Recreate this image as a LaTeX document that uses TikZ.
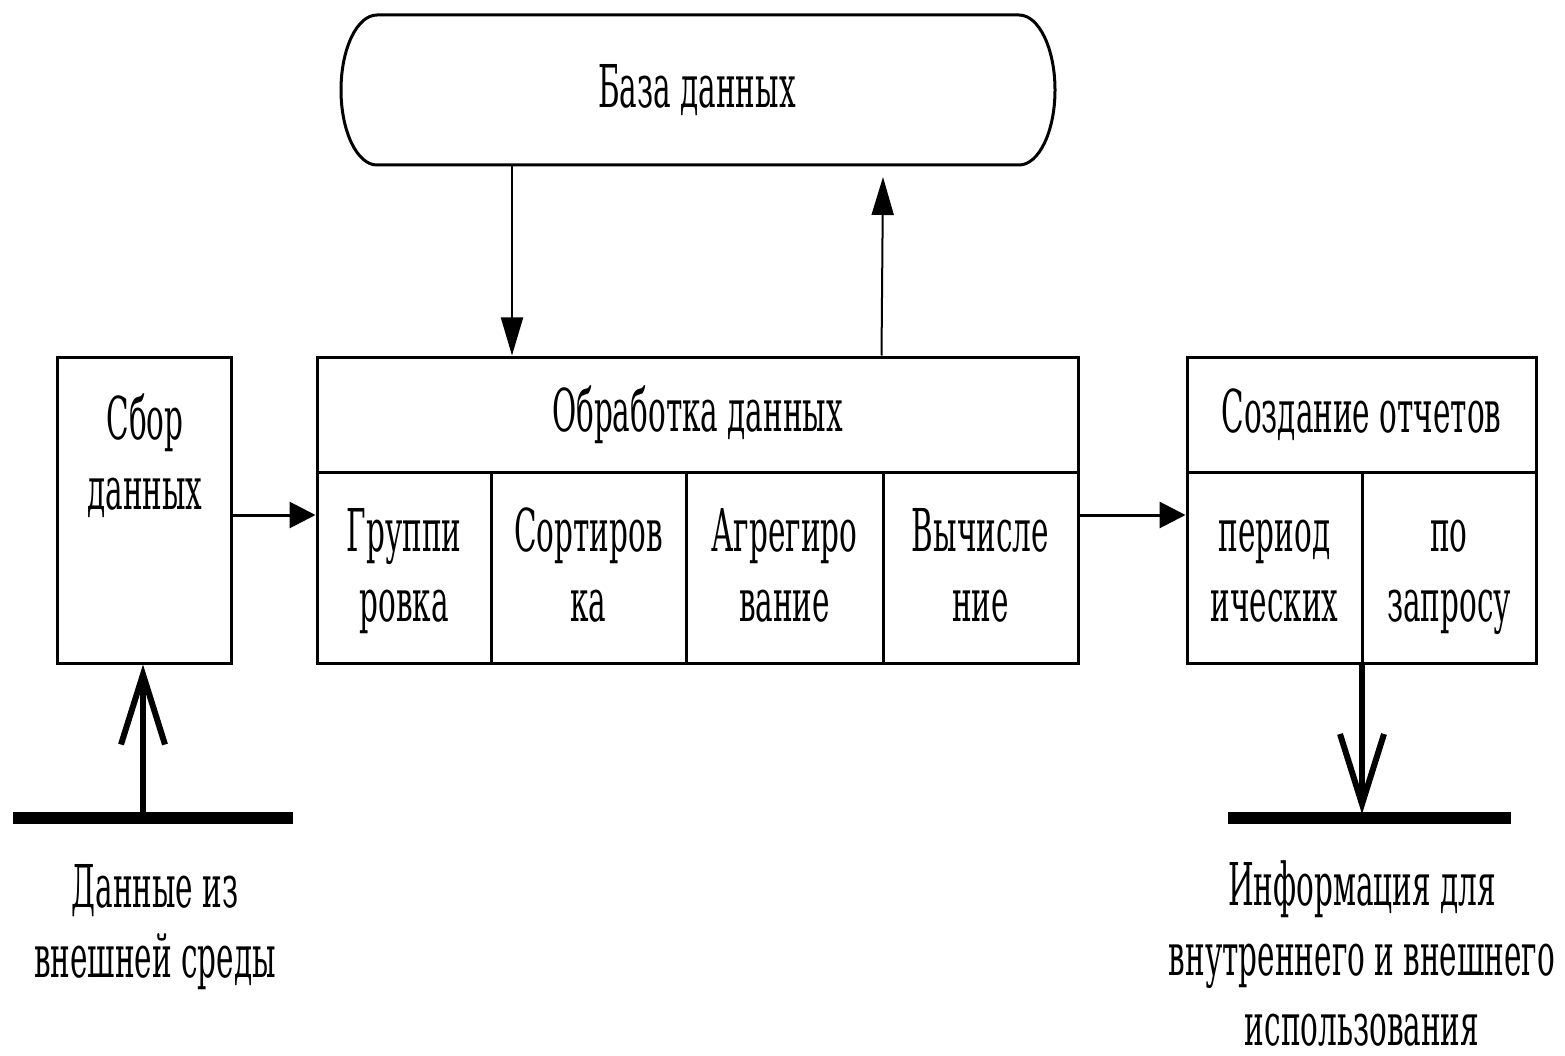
\documentclass[tikz,border=0pt]{standalone}
\usepackage{fontspec}
\setmainfont{DejaVu Serif}[FakeStretch=0.5]
\usetikzlibrary{arrows.meta}
\begin{document}
\begin{tikzpicture}[x=1pt,y=-1pt,
  cell/.style={draw, line width=3pt, inner sep=0pt, align=center},
  txt/.style={inner sep=0pt, align=center, font=\fontsize{59}{70}\selectfont},
  filled/.style={-{Triangle[length=26pt,width=26pt]}, line width=3pt},
  dbarrow/.style={-{Triangle[length=38pt,width=22pt]}, line width=2pt},
  barb/.style={-{Straight Barb[length=70pt,width=44pt,line width=6pt]}, line width=6pt},
  bar/.style={line width=12pt}
]
\useasboundingbox (0,0) rectangle (1565,1056);
% database
\node[txt, minimum width=715pt, minimum height=150pt] (db) at (697,90) {База данных};
\draw[line width=3pt] (377,15) -- (1019,15) arc[start angle=90,end angle=-90,x radius=36pt,y radius=75pt]
  -- (377,165) arc[start angle=270,end angle=90,x radius=36pt,y radius=75pt] -- cycle;
% Sbor
\node[cell, minimum width=174pt, minimum height=306pt] (sbor) at (144,510) {};
\node[txt, anchor=north] (sbortxt) at (145,393) {Сбор\\данных};
% Obrabotka
\node[cell, minimum width=761pt, minimum height=115pt, txt] (obr) at (697.5,414.5) {Обработка данных};
\node[cell, txt, minimum width=174pt, minimum height=191pt] (g1) at (404,567.5) {};
\node[cell, txt, minimum width=195pt, minimum height=191pt] (g2) at (588.5,567.5) {};
\node[cell, txt, minimum width=197pt, minimum height=191pt] (g3) at (784.5,567.5) {};
\node[cell, txt, minimum width=195pt, minimum height=191pt] (g4) at (980.5,567.5) {};
\node[txt] (g1t) at (404,572) {\strut Группи\\\strut ровка};
\node[txt] (g2t) at (588.5,572) {\strut Сортиров\\\strut ка};
\node[txt] (g3t) at (784.5,572) {\strut Агрегиро\\\strut вание};
\node[txt] (g4t) at (980.5,572) {\strut Вычисле\\\strut ние};
% Sozdanie
\node[cell, txt, minimum width=349pt, minimum height=115pt] (soz) at (1361.5,414.5) {Создание отчетов};
\node[cell, txt, minimum width=175pt, minimum height=191pt] (s1) at (1274.5,567.5) {};
\node[cell, txt, minimum width=174pt, minimum height=191pt] (s2) at (1449,567.5) {};
\node[txt] (s1t) at (1274.5,572) {\strut период\\\strut ических};
\node[txt] (s2t) at (1449,572) {\strut по\\\strut запросу};
% bars
\coordinate (barLw) at (13,818);
\coordinate (barLe) at (293,818);
\coordinate (barLm) at (143,818);
\coordinate (barRw) at (1228,818);
\coordinate (barRe) at (1511,818);
\coordinate (barRm) at (1362,814);
\draw[bar] (barLw) -- (barLe);
\draw[bar] (barRw) -- (barRe);
% connectors
\coordinate (flow) at (0,515);
\coordinate (dbOut) at (512,165);
\coordinate (dbIn) at (883,177);
\draw[dbarrow] (dbOut) -- (dbOut |- obr.north);
\draw[dbarrow] (g4.north west |- obr.north) -- (dbIn);
\draw[filled] (sbor.east |- flow) -- (g1.west |- flow);
\draw[filled] (g4.east |- flow) -- (s1.west |- flow);
\draw[barb] (barLm) -- (barLm |- sbor.south);
\draw[barb] (barRm |- s2.south) -- (barRm);
% labels
\node[txt] (inL) at (155,927) {Данные из\\внешней среды};
\node[txt] (outR) at (1362,953) {Информация для\\внутреннего и внешнего\\использования};
\end{tikzpicture}
\end{document}
